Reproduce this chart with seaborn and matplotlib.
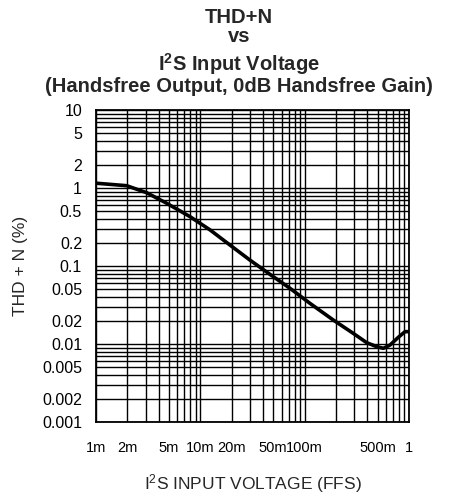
import numpy as np
import pandas as pd
import matplotlib
matplotlib.use("Agg")
import matplotlib.pyplot as plt
import seaborn as sns
from matplotlib.ticker import FixedLocator, LogLocator, NullFormatter

# Data
voltage_ffs = [0.00102, 0.00197, 0.00306, 0.00476, 0.00797, 0.0124, 0.0192,
               0.0299, 0.0466, 0.0723, 0.1124, 0.188, 0.292, 0.393, 0.490,
               0.568, 0.658, 0.791, 0.916, 1.0]
thd_n_pct = [1.15, 1.07, 0.87, 0.637, 0.429, 0.29, 0.186,
             0.119, 0.078, 0.0518, 0.0332, 0.0203, 0.0137, 0.0104, 0.00925,
             0.0088, 0.0097, 0.0122, 0.0144, 0.0144]

x_ticks = [0.001, 0.002, 0.005, 0.01, 0.02, 0.05, 0.1, 0.5, 1]
x_tick_labels = ["1m", "2m", "5m", "10m", "20m", "50m", "100m", "500m", "1"]
y_ticks = [10, 5, 2, 1, 0.5, 0.2, 0.1, 0.05, 0.02, 0.01, 0.005, 0.002, 0.001]
y_tick_labels = ["10", "5", "2", "1", "0.5", "0.2", "0.1", "0.05", "0.02",
                 "0.01", "0.005", "0.002", "0.001"]

sns.set_style("white")
plt.rcParams["font.family"] = ["Liberation Sans", "DejaVu Sans"]
plt.rcParams["mathtext.fontset"] = "custom"
plt.rcParams["mathtext.rm"] = "Liberation Sans"
plt.rcParams["mathtext.bf"] = "Liberation Sans:bold"
plt.rcParams["mathtext.default"] = "regular"

df = pd.DataFrame({"v": voltage_ffs, "thd": thd_n_pct})

fig = plt.figure(figsize=(4.51, 4.95), dpi=100)
ax = fig.add_axes([96 / 451, 1 - 422 / 495, (409 - 96) / 451, (422 - 110) / 495])

sns.lineplot(data=df, x="v", y="thd", ax=ax, color="black", linewidth=2.6)
ax.set_xscale("log")
ax.set_yscale("log")
ax.set_xlim(0.001, 1)
ax.set_ylim(0.001, 10)

ax.xaxis.set_major_locator(FixedLocator(x_ticks))
ax.set_xticklabels(x_tick_labels)
ax.xaxis.set_minor_locator(LogLocator(base=10, subs=np.arange(1, 10), numticks=20))
ax.xaxis.set_minor_formatter(NullFormatter())
ax.yaxis.set_major_locator(FixedLocator(y_ticks))
ax.set_yticklabels(y_tick_labels)
ax.yaxis.set_minor_locator(LogLocator(base=10, subs=np.arange(1, 10), numticks=20))
ax.yaxis.set_minor_formatter(NullFormatter())

ax.grid(True, which="both", color="black", linewidth=1.0)
ax.tick_params(which="both", length=0, colors="black")
ax.tick_params(axis="x", pad=14, labelsize=10.5)
ax.tick_params(axis="y", pad=10, labelsize=11.5)
for s in ax.spines.values():
    s.set_color("black")
    s.set_linewidth(1.3)

ax.set_xlabel("I$^2$S INPUT VOLTAGE (FFS)", fontsize=12.5, labelpad=12)
ax.set_ylabel("THD + N (%)", fontsize=12.5, labelpad=10)

title_kw = dict(ha="center", va="baseline", fontsize=14.5, fontweight="bold")
tx = 239 / 451
fig.text(tx, 1 - 23 / 495, "THD+N", **title_kw)
fig.text(tx, 1 - 42 / 495, "vs", **title_kw)
fig.text(tx, 1 - 71 / 495, "I$^\\mathbf{2}$S Input Voltage", **title_kw)
fig.text(tx, 1 - 92 / 495, "(Handsfree Output, 0dB Handsfree Gain)", **title_kw)

fig.savefig("out.png", dpi=100, facecolor="white")
